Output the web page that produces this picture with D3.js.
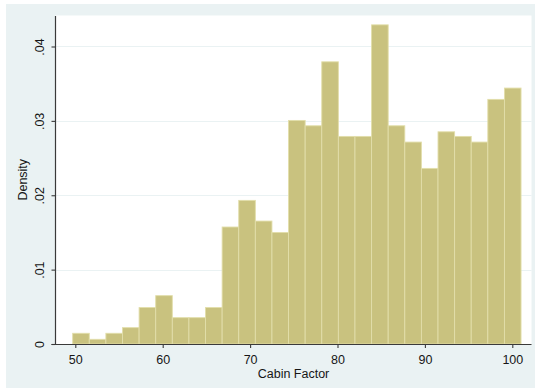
<!DOCTYPE html>
<html>
<head>
<meta charset="utf-8">
<script src="https://cdn.jsdelivr.net/npm/d3@7"></script>
<style>
  html, body { margin: 0; padding: 0; background: #ffffff; }
  svg { display: block; font-family: "Liberation Sans", Arial, sans-serif; }
</style>
</head>
<body>
<svg id="chart" width="535" height="390"></svg>
<script>
// Histogram of cabin factor: 27 equal-width bins
const binStart = 49.7;
const binWidth = 1.9;
const densities = [
  0.00144, 0.00063, 0.00144, 0.0022, 0.0049, 0.0065, 0.00354, 0.00354, 0.0049,
  0.01573, 0.01931, 0.01653, 0.0150, 0.03006, 0.02934, 0.03794, 0.02791, 0.02791,
  0.04291, 0.02934, 0.02715, 0.02361, 0.02853, 0.02791, 0.02715, 0.03289, 0.03441
];
const xTicks = [50, 60, 70, 80, 90, 100];
const yTicks = [0, 0.01, 0.02, 0.03, 0.04];
const yTickLabels = ["0", ".01", ".02", ".03", ".04"];
const xTitle = "Cabin Factor";
const yTitle = "Density";

const bins = densities.map((d, i) => ({
  x0: binStart + i * binWidth,
  x1: binStart + (i + 1) * binWidth,
  density: d
}));

const svg = d3.select("#chart");

// graph region
svg.append("rect")
  .attr("x", 6).attr("y", 4).attr("width", 529).attr("height", 384)
  .attr("fill", "#eaf2f3");

const plot = { left: 55.5, right: 531.5, top: 15.5, bottom: 344 };

// plot region
svg.append("rect")
  .attr("x", plot.left).attr("y", plot.top)
  .attr("width", plot.right - plot.left).attr("height", plot.bottom - plot.top)
  .attr("fill", "#ffffff");

const x = d3.scaleLinear().domain([50, 100]).range([75.3, 512.3]);
const y = d3.scaleLinear().domain([0, 0.0441]).range([plot.bottom, 16]);

// horizontal grid lines
svg.append("g")
  .selectAll("line")
  .data(yTicks.filter(t => t > 0))
  .join("line")
  .attr("x1", plot.left).attr("x2", plot.right)
  .attr("y1", d => Math.round(y(d)) + 0.5).attr("y2", d => Math.round(y(d)) + 0.5)
  .attr("stroke", "#eaf2f3").attr("stroke-width", 1.2);

// bars
svg.append("g")
  .selectAll("rect")
  .data(bins)
  .join("rect")
  .attr("x", d => x(d.x0))
  .attr("width", d => x(d.x1) - x(d.x0))
  .attr("y", d => y(d.density))
  .attr("height", d => y(0) - y(d.density))
  .attr("fill", "#c9c27f")
  .attr("stroke", "#e2deaa")
  .attr("stroke-width", 0.9);

// x axis
const xAxis = d3.axisBottom(x)
  .tickValues(xTicks)
  .tickSize(4)
  .tickPadding(7)
  .tickSizeOuter(0);
const gx = svg.append("g")
  .attr("transform", `translate(0,${plot.bottom})`)
  .call(xAxis);
gx.select(".domain").remove();
gx.append("line")
  .attr("x1", plot.left - 4).attr("x2", plot.right)
  .attr("y1", 0.5).attr("y2", 0.5)
  .attr("stroke", "#3a3a3a").attr("stroke-width", 1.2);
gx.selectAll(".tick line").attr("stroke", "#3a3a3a").attr("stroke-width", 1.1);
gx.selectAll(".tick text")
  .attr("fill", "#161616")
  .attr("font-size", 12.5)
  .attr("font-family", "'Liberation Sans', Arial, sans-serif");

// y axis
const yAxis = d3.axisLeft(y)
  .tickValues(yTicks)
  .tickFormat((d, i) => yTickLabels[i])
  .tickSize(4)
  .tickSizeOuter(0);
const gy = svg.append("g")
  .attr("transform", `translate(${plot.left},0)`)
  .call(yAxis);
gy.select(".domain").remove();
gy.append("line")
  .attr("x1", 0).attr("x2", 0)
  .attr("y1", 16).attr("y2", plot.bottom + 0.5)
  .attr("stroke", "#3a3a3a").attr("stroke-width", 1.2);
gy.selectAll(".tick line").attr("stroke", "#3a3a3a").attr("stroke-width", 1.1);
gy.selectAll(".tick text")
  .attr("fill", "#161616")
  .attr("font-size", 12.5)
  .attr("font-family", "'Liberation Sans', Arial, sans-serif")
  .attr("x", null).attr("dy", null)
  .attr("text-anchor", "middle")
  .attr("transform", "translate(-12,0) rotate(-90)");

// axis titles
svg.append("text")
  .attr("x", (plot.left + plot.right) / 2)
  .attr("y", 377.5)
  .attr("text-anchor", "middle")
  .attr("font-size", 12.5)
  .attr("fill", "#161616")
  .text(xTitle);

svg.append("text")
  .attr("transform", `translate(27,${(plot.top + plot.bottom) / 2}) rotate(-90)`)
  .attr("text-anchor", "middle")
  .attr("font-size", 12.5)
  .attr("fill", "#161616")
  .text(yTitle);
</script>
</body>
</html>
